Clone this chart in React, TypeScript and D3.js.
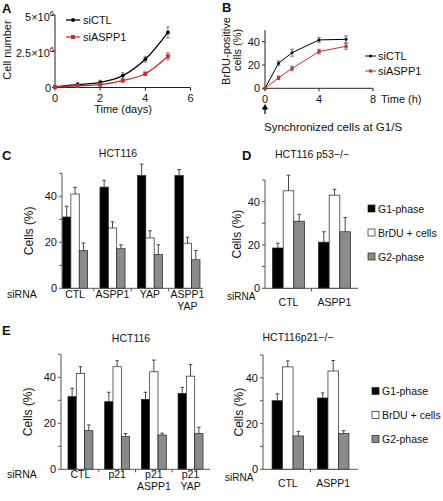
import React from 'react';
import * as d3 from 'd3';

const FONT = '"Liberation Sans", Arial, Helvetica, sans-serif';
const RED = '#c8302e';
const GRAY = '#8a8a8a';
const AX = '#555';

// ---------- Panel A (cell number, ×10^6) ----------
const daysA = [0, 1, 2, 3, 4, 5];
const ctlA = [0.05, 0.2, 0.35, 0.82, 1.95, 3.8];
const ctlAErr = [0.06, 0.15, 0.15, 0.22, 0.2, 0.38];
const asppA = [0.04, 0.12, 0.2, 0.48, 0.95, 2.15];
const asppAErr = [0.03, 0.06, 0.1, 0.1, 0.12, 0.25];
const xTicksA = [0, 2, 4, 6];
const yTicksA = [0, 2.5, 5];
const yTickLabelsA = ['0', '2.5×10', '5×10'];

// ---------- Panel B (BrDU-positive %) ----------
const hoursB = [0, 1, 2, 4, 6];
const ctlB = [0, 21.5, 30.5, 41.5, 42];
const ctlBErr = [0, 2, 3, 2, 3];
const asppB = [0, 9, 17, 31.5, 36];
const asppBErr = [0, 1.5, 2, 2, 2.5];
const xTicksB = [0, 4, 8];
const yTicksB = [0, 20, 40];

// ---------- Bar panels ----------
const phaseNames = ['G1-phase', 'BrDU + cells', 'G2-phase'];
const phaseFills = ['#000000', '#ffffff', GRAY];

const catsC = [['CTL'], ['ASPP1'], ['YAP'], ['ASPP1', 'YAP']];
const g1C = [31, 44, 49, 49];
const g1CErr = [4.7, 2.9, 5, 2.6];
const brC = [41, 26.2, 21.9, 19.6];
const brCErr = [2.9, 2.7, 3.1, 2.6];
const g2C = [16.4, 17.2, 14.7, 12.4];
const g2CErr = [3.3, 1.7, 4.2, 4];

const catsD = [['CTL'], ['ASPP1']];
const g1D = [18.6, 21.3];
const g1DErr = [2.2, 4.8];
const brD = [45, 43];
const brDErr = [7.2, 2.7];
const g2D = [31, 26.1];
const g2DErr = [3.2, 6.6];

const catsE = [['CTL'], ['p21'], ['p21', 'ASPP1'], ['p21', 'YAP']];
const g1E = [31.6, 29.4, 30.4, 33];
const g1EErr = [3.6, 4.1, 3.1, 2.6];
const brE = [41.7, 44.6, 42.4, 40.5];
const brEErr = [2.9, 2.6, 5.1, 5];
const g2E = [16.8, 14.2, 14.9, 15.5];
const g2EErr = [2.5, 1.3, 0.8, 2.8];

const catsE2 = [['CTL'], ['ASPP1']];
const g1E2 = [30, 31.2];
const g1E2Err = [3, 2.2];
const brE2 = [44.8, 43];
const brE2Err = [2.6, 4.6];
const g2E2 = [14.6, 15.6];
const g2E2Err = [2, 1.3];

const T = { fontFamily: FONT, fill: '#111' } as const;

function ErrBar({ x, y1, y2, color = '#333', cap = 1.8 }: any) {
  return (
    <g stroke={color} strokeWidth={0.9}>
      <line x1={x} x2={x} y1={y1} y2={y2} />
      <line x1={x - cap} x2={x + cap} y1={y2} y2={y2} />
      <line x1={x - cap} x2={x + cap} y1={y1} y2={y1} />
    </g>
  );
}

function PanelA() {
  const x = d3.scaleLinear().domain([0, 6]).range([55, 190.5]);
  const y = d3.scaleLinear().domain([0, 5]).range([87.5, 15]);
  const line = d3
    .line<number>()
    .x((_, i) => x(daysA[i]))
    .y((d) => y(d))
    .curve(d3.curveCatmullRom.alpha(0.5));
  const series = [
    { v: ctlA, e: ctlAErr, c: '#000', sq: false },
    { v: asppA, e: asppAErr, c: RED, sq: true },
  ];
  return (
    <g>
      <text x={2} y={13} fontSize={13} fontWeight="bold" {...T}>A</text>
      <line x1={x(0)} x2={x(0)} y1={y(5)} y2={y(0)} stroke="#222" />
      <line x1={x(0)} x2={x(6)} y1={y(0)} y2={y(0)} stroke="#222" />
      {yTicksA.map((t) => (
        <line key={t} x1={x(0) - 3} x2={x(0)} y1={y(t)} y2={y(t)} stroke="#222" />
      ))}
      {xTicksA.map((t) => (
        <g key={t}>
          <line x1={x(t)} x2={x(t)} y1={y(0)} y2={y(0) + 3} stroke="#222" />
          <text x={x(t)} y={y(0) + 14} fontSize={11} textAnchor="middle" {...T}>{t}</text>
        </g>
      ))}
      {yTicksA.map((t, i) => (
        <text key={t} x={i === 0 ? 51 : 54} y={y(t) + 4 + (i === 0 ? 0 : 2)} fontSize={11} textAnchor="end" {...T}>
          {yTickLabelsA[i]}
          {i > 0 && (
            <tspan dy={-5} fontSize={7.5}>6</tspan>
          )}
        </text>
      ))}
      <text x={123} y={113} fontSize={11} textAnchor="middle" {...T}>Time (days)</text>
      <text transform="translate(11,50) rotate(-90)" fontSize={11} textAnchor="middle" {...T}>Cell number</text>
      {series.map((s, k) => (
        <g key={k}>
          <path d={line(s.v) || ''} fill="none" stroke={s.c} strokeWidth={1.3} />
          {s.v.map((v, i) => (
            <ErrBar key={i} x={x(daysA[i])} y1={y(v - s.e[i])} y2={y(v + s.e[i])} color="#777" />
          ))}
          {s.v.map((v, i) =>
            s.sq ? (
              <rect key={'m' + i} x={x(daysA[i]) - 2} y={y(v) - 2} width={4} height={4} fill={s.c} />
            ) : (
              <circle key={'m' + i} cx={x(daysA[i])} cy={y(v)} r={1.9} fill={s.c} />
            )
          )}
        </g>
      ))}
      <line x1={66} x2={80} y1={20} y2={20} stroke="#000" strokeWidth={1.3} />
      <circle cx={73} cy={20} r={1.9} fill="#000" />
      <text x={83} y={24} fontSize={11} {...T}>siCTL</text>
      <line x1={66} x2={80} y1={37} y2={37} stroke={RED} strokeWidth={1.3} />
      <rect x={71} y={35} width={4} height={4} fill={RED} />
      <text x={83} y={41} fontSize={11} {...T}>siASPP1</text>
    </g>
  );
}

function PanelB() {
  const x = d3.scaleLinear().domain([0, 8]).range([265, 373]);
  const y = d3.scaleLinear().domain([0, 50]).range([88.3, 30]);
  const line = d3
    .line<number>()
    .x((_, i) => x(hoursB[i]))
    .y((d) => y(d));
  const series = [
    { v: ctlB, e: ctlBErr, c: '#000', sq: false },
    { v: asppB, e: asppBErr, c: RED, sq: true },
  ];
  return (
    <g>
      <text x={222} y={12} fontSize={13} fontWeight="bold" {...T}>B</text>
      <line x1={x(0)} x2={x(0)} y1={y(50)} y2={y(0)} stroke="#222" />
      <line x1={x(0)} x2={x(8)} y1={y(0)} y2={y(0)} stroke="#222" />
      {yTicksB.map((t) => (
        <g key={t}>
          <line x1={x(0) - 3} x2={x(0)} y1={y(t)} y2={y(t)} stroke="#222" />
          <text x={x(0) - 5} y={y(t) + 4} fontSize={11} textAnchor="end" {...T}>{t}</text>
        </g>
      ))}
      {xTicksB.map((t) => (
        <g key={t}>
          <line x1={x(t)} x2={x(t)} y1={y(0)} y2={y(0) + 3} stroke="#222" />
          <text x={x(t)} y={y(0) + 15} fontSize={11} textAnchor="middle" {...T}>{t}</text>
        </g>
      ))}
      <text x={381} y={y(0) + 15} fontSize={11} {...T}>Time (h)</text>
      <text transform="translate(230,51) rotate(-90)" fontSize={11} textAnchor="middle" {...T}>BrDU-positive</text>
      <text transform="translate(241,50) rotate(-90)" fontSize={11} textAnchor="middle" {...T}>cells (%)</text>
      {series.map((s, k) => (
        <g key={k}>
          <path d={line(s.v) || ''} fill="none" stroke={s.c} strokeWidth={1} />
          {s.v.map((v, i) =>
            s.e[i] > 0 ? (
              <ErrBar key={i} x={x(hoursB[i])} y1={y(v - s.e[i])} y2={y(v + s.e[i])} color="#666" />
            ) : null
          )}
          {s.v.map((v, i) =>
            s.sq ? (
              <rect key={'m' + i} x={x(hoursB[i]) - 1.6} y={y(v) - 1.6} width={3.2} height={3.2} fill={s.c} />
            ) : (
              <circle key={'m' + i} cx={x(hoursB[i])} cy={y(v)} r={1.5} fill={s.c} />
            )
          )}
        </g>
      ))}
      <line x1={365} x2={376} y1={56} y2={56} stroke="#000" />
      <circle cx={370.5} cy={56} r={1.5} fill="#000" />
      <text x={378} y={60} fontSize={11} {...T}>siCTL</text>
      <line x1={365} x2={376} y1={71} y2={71} stroke={RED} />
      <rect x={369} y={69.4} width={3.2} height={3.2} fill={RED} />
      <text x={378} y={75} fontSize={11} {...T}>siASPP1</text>
      <line x1={265} x2={265} y1={114} y2={108} stroke="#000" strokeWidth={1.2} />
      <path d="M261.8,109.5 L265,104 L268.2,109.5 Z" fill="#000" />
      <text x={264} y={131} fontSize={11.5} {...T}>Synchronized cells at G1/S</text>
    </g>
  );
}

function BarPanel(p: any) {
  const y = d3.scaleLinear().domain([0, 50]).range([p.y0, p.y50]);
  const keys = p.cats.map((c: string[]) => c.join(' '));
  const x = d3.scaleBand<string>().domain(keys).range([p.r0, p.r1]).paddingInner(p.pi).paddingOuter(p.po);
  const inner = d3.scaleBand<number>().domain([0, 1, 2]).range([0, x.bandwidth()]);
  const vals = [p.g1, p.br, p.g2];
  const errs = [p.g1e, p.bre, p.g2e];
  const step = x.step();
  const fs = p.fs || 10.5;
  const catY = p.y0 + (p.catOff || 10);
  return (
    <g>
      {keys.map((k: string, ci: number) => (
        <g key={k}>
          {vals.map((arr: number[], si: number) => {
            const bx = (x(k) as number) + (inner(si) as number);
            const bw = inner.bandwidth();
            const v = arr[ci];
            const e = errs[si][ci];
            const cx = bx + bw / 2;
            return (
              <g key={si}>
                <line x1={cx} x2={cx} y1={y(v)} y2={y(v + e)} stroke="#333" strokeWidth={0.9} />
                <line x1={cx - 1.8} x2={cx + 1.8} y1={y(v + e)} y2={y(v + e)} stroke="#333" strokeWidth={0.9} />
                <rect x={bx} y={y(v)} width={bw} height={p.y0 - y(v)} fill={phaseFills[si]} stroke="#222" strokeWidth={0.7} />
              </g>
            );
          })}
        </g>
      ))}
      <line x1={p.ax} x2={p.ax} y1={p.y50} y2={p.y0} stroke={AX} />
      <line x1={p.ax} x2={p.axEnd} y1={p.y0} y2={p.y0} stroke={AX} />
      {d3.range(0, 51, 10).map((t) => (
        <line key={t} x1={p.ax - 3} x2={p.ax} y1={y(t)} y2={y(t)} stroke={AX} />
      ))}
      {[0, 20, 40].map((t) => (
        <text key={t} x={p.ax - 5} y={y(t) + 4} fontSize={11} textAnchor="end" {...T}>{t}</text>
      ))}
      {keys.slice(0, -1).map((k: string) => {
        const tx = (x(k) as number) + x.bandwidth() + (step - x.bandwidth()) / 2;
        return <line key={k} x1={tx} x2={tx} y1={p.y0} y2={p.y0 + 3} stroke={AX} />;
      })}
      {p.cats.map((c: string[], ci: number) => (
        <text key={ci} x={(x(keys[ci]) as number) + x.bandwidth() / 2} y={catY} fontSize={fs} textAnchor="middle" {...T}>
          {c.map((s, j) => (
            <tspan key={j} x={(x(keys[ci]) as number) + x.bandwidth() / 2} dy={j === 0 ? 0 : 11.5}>{s}</tspan>
          ))}
        </text>
      ))}
      <text x={p.siX} y={p.y0 + (p.siOff || 10)} fontSize={p.siFs || fs} {...T}>siRNA</text>
      <text x={p.titleX} y={p.titleY} fontSize={fs} textAnchor="middle" {...T}>{p.title}</text>
      <text transform={`translate(${p.ylX},${(p.y0 + p.y50) / 2}) rotate(-90)`} fontSize={12} textAnchor="middle" {...T}>Cells (%)</text>
      {p.legend && (
        <g>
          {phaseNames.map((n, i) => (
            <g key={n}>
              <rect x={p.legX} y={p.legY + i * p.legStep - 3.5} width={7} height={7} fill={phaseFills[i]} stroke="#222" strokeWidth={0.7} />
              <text x={p.legX + 10} y={p.legY + i * p.legStep + 4} fontSize={fs} {...T}>{n}</text>
            </g>
          ))}
        </g>
      )}
    </g>
  );
}

export default function App() {
  return (
    <div style={{ position: 'absolute', left: 0, top: 0 }}>
      <svg width={443} height={501} style={{ display: 'block', background: '#fff' }}>
        <PanelA />
        <PanelB />
        <text x={2} y={160} fontSize={13} fontWeight="bold" {...T}>C</text>
        <BarPanel
          cats={catsC} g1={g1C} g1e={g1CErr} br={brC} bre={brCErr} g2={g2C} g2e={g2CErr}
          ax={62} axEnd={203} y0={288.3} y50={173.3} r0={62.5} r1={200} pi={0.33} po={0}
          title="HCT116" titleX={118} titleY={157} ylX={33} siX={7}
        />
        <text x={242} y={160} fontSize={13} fontWeight="bold" {...T}>D</text>
        <BarPanel
          cats={catsD} g1={g1D} g1e={g1DErr} br={brD} bre={brDErr} g2={g2D} g2e={g2DErr}
          ax={265} axEnd={358} y0={288.3} y50={180} r0={265} r1={358} pi={0.304} po={0.163}
          title="HCT116 p53−/−" titleX={312} titleY={158} ylX={241} siX={227} siFs={10} siOff={12} catOff={18}
          legend legX={368} legY={208.5} legStep={24}
        />
        <text x={2} y={335} fontSize={13} fontWeight="bold" {...T}>E</text>
        <BarPanel
          cats={catsE} g1={g1E} g1e={g1EErr} br={brE} bre={brEErr} g2={g2E} g2e={g2EErr}
          ax={61} axEnd={210} y0={469.3} y50={354.3} r0={61} r1={210} pi={0.32} po={0.19}
          title="HCT116" titleX={131} titleY={342} ylX={32} siX={7} catOff={9} siOff={9}
        />
        <BarPanel
          cats={catsE2} g1={g1E2} g1e={g1E2Err} br={brE2} bre={brE2Err} g2={g2E2} g2e={g2E2Err}
          ax={263} axEnd={358} y0={469.3} y50={355} r0={263} r1={358} pi={0.307} po={0.2}
          title="HCT116p21−/−" titleX={298} titleY={341} ylX={243} siX={225} siFs={10} siOff={12} catOff={18}
          legend legX={372} legY={391} legStep={24}
        />
      </svg>
    </div>
  );
}
